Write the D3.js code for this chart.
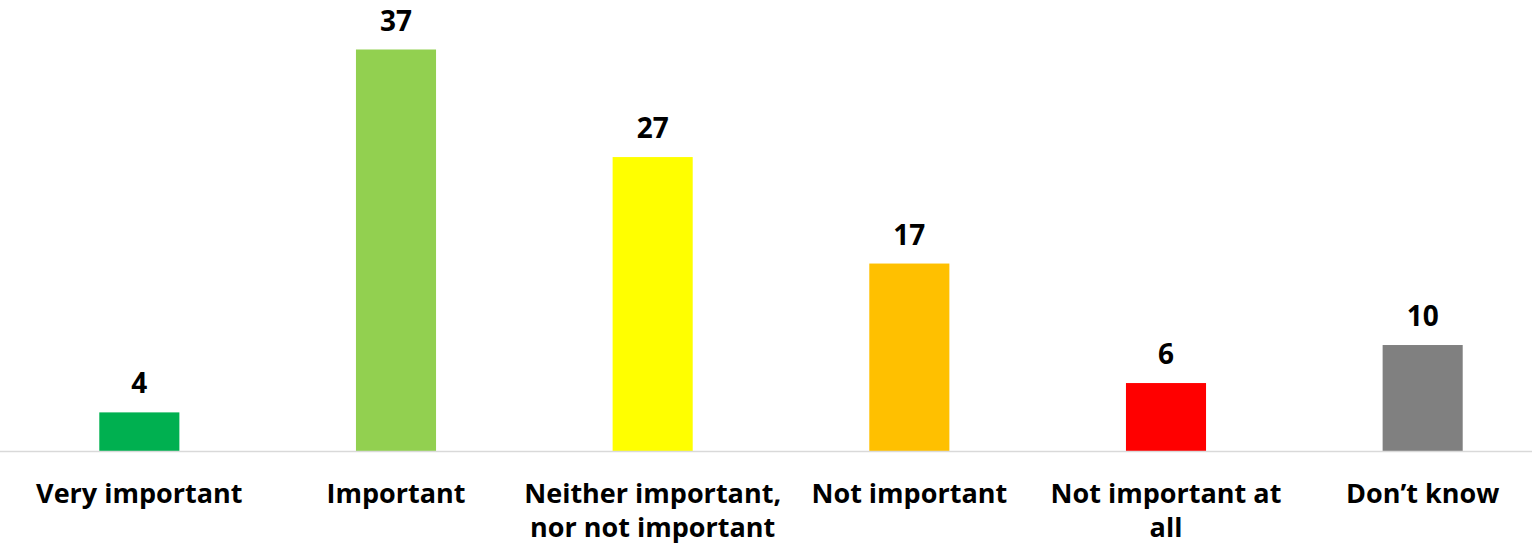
<!DOCTYPE html>
<html>
<head>
<meta charset="utf-8">
<script src="https://cdn.jsdelivr.net/npm/d3@7"></script>
<style>
  html, body { margin: 0; padding: 0; background: #fff; }
  svg { display: block; }
</style>
</head>
<body>
<svg id="chart" width="1532" height="550"></svg>
<script>
const categories = ["Very important", "Important", "Neither important, nor not important", "Not important", "Not important at all", "Don’t know"];
const tickLabels = [["Very important"], ["Important"], ["Neither important,", "nor not important"], ["Not important"], ["Not important at", "all"], ["Don’t know"]];
const values = [3.6, 37, 27.1, 17.3, 6.3, 9.8];
const colors = ["#00B050", "#92D050", "#FFFF00", "#FFC000", "#FF0000", "#808080"];

const svg = d3.select("#chart");
const W = 1532, H = 550;
const baseY = 451.5;
const font = "'Open Sans', 'DejaVu Sans', sans-serif";

const x = d3.scaleBand()
  .domain(categories)
  .range([11, 1551])
  .paddingInner(0.688)
  .paddingOuter(0.344);

const y = d3.scaleLinear()
  .domain([0, 37])
  .range([baseY, 49.5]);

// bars
svg.append("g")
  .selectAll("rect")
  .data(categories)
  .join("rect")
  .attr("x", d => x(d))
  .attr("y", (d, i) => y(values[i]))
  .attr("width", x.bandwidth())
  .attr("height", (d, i) => baseY - y(values[i]))
  .attr("fill", (d, i) => colors[i]);

// axis line
const axis = d3.axisBottom(x).tickSize(0).tickFormat("");
const gAxis = svg.append("g")
  .attr("transform", `translate(0,${baseY})`)
  .call(axis);
gAxis.select(".domain").attr("stroke", "#D9D9D9").attr("stroke-width", 1.5)
  .attr("d", "M-1,0H" + (W + 20));

// category labels
const fmt = d3.format(".0f");
const lab = svg.append("g")
  .selectAll("text")
  .data(categories)
  .join("text")
  .attr("x", d => x(d) + x.bandwidth() / 2)
  .attr("y", 503)
  .attr("text-anchor", "middle")
  .style("font-family", font)
  .style("font-weight", 700)
  .style("font-size", "27px")
  .attr("fill", "#000");
lab.each(function(d, i) {
  d3.select(this).selectAll("tspan")
    .data(tickLabels[i])
    .join("tspan")
    .attr("x", x(d) + x.bandwidth() / 2)
    .attr("dy", (t, j) => j === 0 ? 0 : 34)
    .text(t => t);
});

// value labels
svg.append("g")
  .selectAll("text")
  .data(categories)
  .join("text")
  .attr("x", d => x(d) + x.bandwidth() / 2)
  .attr("y", (d, i) => y(values[i]) - 19)
  .attr("text-anchor", "middle")
  .style("font-family", font)
  .style("font-weight", 700)
  .style("font-size", "28px")
  .attr("fill", "#000")
  .text((d, i) => fmt(values[i]));
</script>
</body>
</html>
